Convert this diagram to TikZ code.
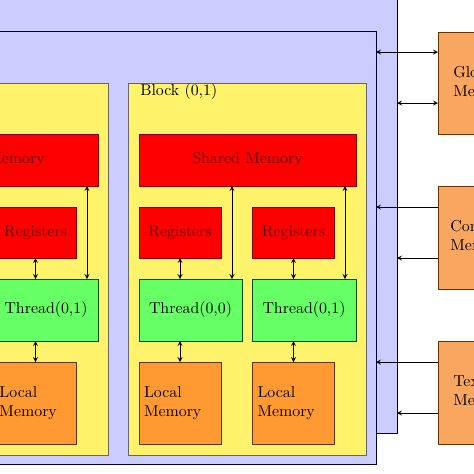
\documentclass[tikz,border=0pt]{standalone}
\usepackage{tikz}
\usetikzlibrary{positioning}
\newlength{\pxu}
\setlength{\pxu}{0.63pt}
\definecolor{gridfill}{HTML}{CCCCFF}
\definecolor{blockfill}{HTML}{FFF36B}
\definecolor{localfill}{HTML}{FF9A33}
\definecolor{memfill}{HTML}{F9A760}
\begin{document}
\begin{tikzpicture}[x=\pxu, y=-\pxu, >=stealth,
    box/.style={draw, inner sep=0pt, outer sep=0pt, line width=0.6pt},
    gridbox/.style={box, fill=gridfill, draw=blue!25!black},
    blockbox/.style={box, fill=blockfill, draw=black!60},
    smem/.style={box, fill=red, draw=red!50!black, text=red!35!black},
    regs/.style={box, fill=red, draw=red!50!black, text=red!35!black, minimum width=82\pxu, minimum height=51\pxu},
    thrd/.style={box, fill=green!60, draw=green!30!black, minimum height=62\pxu},
    lmem/.style={box, fill=localfill, draw=orange!40!black, minimum width=82\pxu, minimum height=82\pxu, inner xsep=5\pxu, text width=72\pxu, align=left},
    gmem/.style={box, fill=memfill, draw=orange!40!black, minimum width=88\pxu, minimum height=103\pxu, align=left}]
        \useasboundingbox (0,0) rectangle (474,474);
        \clip (0,0) rectangle (474,474);
        % Grids
        \node[gridbox, minimum width=526\pxu, minimum height=435\pxu] (grid2) at (134,215.5) {};
        \node[gridbox, minimum width=526\pxu, minimum height=433\pxu] (grid1) at (113,247.5) {};
        % Blocks
        \node[blockbox, minimum width=238\pxu, minimum height=372\pxu] (blk0) at (-11,269) {};
        \node[blockbox, minimum width=238\pxu, minimum height=372\pxu] (blk1) at (247,269) {};
        \node[anchor=west, inner sep=0pt] (lbl1) at (140,92) {Block (0,1)};
        % Shared memory
        \node[smem, minimum width=217\pxu, minimum height=52\pxu] (sm0) at (-10.5,160) {Shared Memory};
        \node[smem, minimum width=217\pxu, minimum height=52\pxu] (sm1) at (247.5,160) {Shared Memory};
        % Registers
        \node[regs] (regB0) at (35.5,232.5) {Registers};
        \node[regs] (regA1) at (180,232.5) {Registers};
        \node[regs] (regB1) at (293.5,232.5) {Registers};
        % Threads
        \node[thrd, minimum width=104\pxu] (thrB0) at (46,310) {Thread(0,1)};
        \node[thrd, minimum width=103\pxu] (thrA1) at (190.5,310) {Thread(0,0)};
        \node[thrd, minimum width=104\pxu] (thrB1) at (304,310) {Thread(0,1)};
        % Local memory
        \node[lmem] (locB0) at (35.5,403) {Local\\Memory};
        \node[lmem] (locA1) at (180,403) {Local\\Memory};
        \node[lmem] (locB1) at (293.5,403) {Local\\Memory};
        % Thread arrows
        \draw[<->] (regB0.south) -- (regB0.south |- thrB0.north);
        \draw[<->] (regA1.south) -- (regA1.south |- thrA1.north);
        \draw[<->] (regB1.south) -- (regB1.south |- thrB1.north);
        \draw[<->] (locB0.north) -- (locB0.north |- thrB0.south);
        \draw[<->] (locA1.north) -- (locA1.north |- thrA1.south);
        \draw[<->] (locB1.north) -- (locB1.north |- thrB1.south);
        \coordinate (sB0) at ([xshift=-11\pxu]thrB0.north east);
        \coordinate (sA1) at ([xshift=-10\pxu]thrA1.north east);
        \coordinate (sB1) at ([xshift=-11\pxu]thrB1.north east);
        \draw[<->] (sB0) -- (sB0 |- sm0.south);
        \draw[<->] (sA1) -- (sA1 |- sm1.south);
        \draw[<->] (sB1) -- (sB1 |- sm1.south);
        % Device memories
        \node[gmem, minimum height=102\pxu] (glob) at (482,83) {Global\\Memory};
        \node[gmem] (const) at (482,237.5) {Constant\\Memory};
        \node[gmem] (tex) at (482,392.5) {Texture\\Memory};
        \coordinate (g1) at ([yshift=-20\pxu]glob.north west);
        \coordinate (g2) at ([yshift=-71\pxu]glob.north west);
        \coordinate (c1) at ([yshift=-21\pxu]const.north west);
        \coordinate (c2) at ([yshift=-72\pxu]const.north west);
        \coordinate (t1) at ([yshift=-21\pxu]tex.north west);
        \coordinate (t2) at ([yshift=-72\pxu]tex.north west);
        \draw[<->] (g1) -- (g1 -| grid1.east);
        \draw[<->] (g2) -- (g2 -| grid2.east);
        \draw[->] (c1) -- (c1 -| grid1.east);
        \draw[->] (c2) -- (c2 -| grid2.east);
        \draw[->] (t1) -- (t1 -| grid1.east);
        \draw[->] (t2) -- (t2 -| grid2.east);
\end{tikzpicture}
\end{document}
